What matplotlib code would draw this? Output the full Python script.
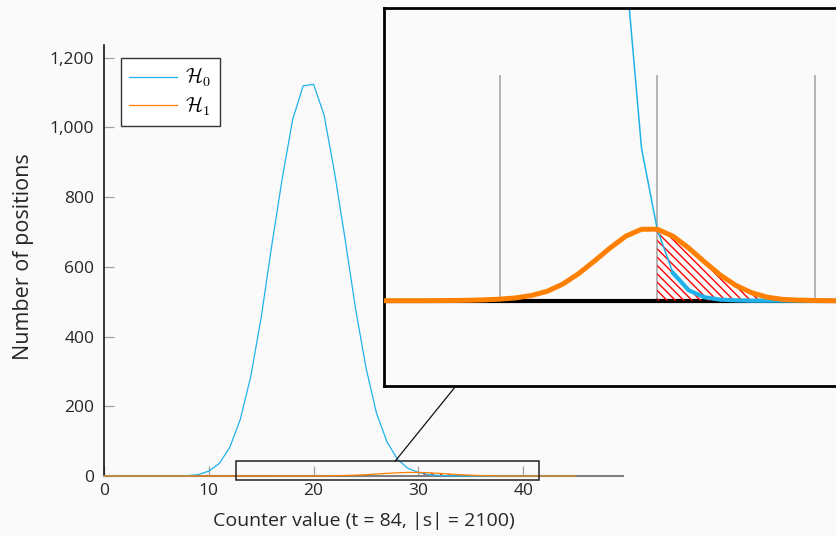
import matplotlib
matplotlib.use("Agg")
import matplotlib.pyplot as plt
from matplotlib.patches import Rectangle, ConnectionPatch
from matplotlib.ticker import StrMethodFormatter

# counter values 0..45
counter = list(range(46))

# H0: number of positions per counter value
h0 = [0, 0, 0, 0, 0, 0, 0, 0, 1, 4,
      14, 36, 82, 162, 285, 455, 660, 852, 1022, 1119,
      1123, 1035, 870, 680, 480, 310, 180, 98, 48, 22,
      10.3, 4, 1.5, 0.5, 0.15, 0.05, 0, 0, 0, 0,
      0, 0, 0, 0, 0, 0]

# H1: number of positions per counter value
h1 = [0, 0, 0, 0, 0, 0, 0, 0, 0, 0,
      0, 0, 0, 0, 0, 0, 0.01, 0.03, 0.06, 0.12,
      0.22, 0.4, 0.75, 1.35, 2.4, 3.9, 5.7, 7.6, 9.3, 10.3,
      10.3, 9.3, 7.6, 5.6, 3.7, 2.2, 1.15, 0.5, 0.18, 0.08,
      0.03, 0, 0, 0, 0, 0]

threshold = 30
labels = [r"$\mathcal{H}_\mathsf{0}$", r"$\mathcal{H}_\mathsf{1}$"]
x_ticks = [0, 10, 20, 30, 40]
y_ticks = [0, 200, 400, 600, 800, 1000, 1200]

blue = "#1fb2ea"
orange = "#ff8000"
bg = "#fafafa"
txt = "#262626"

plt.rcParams["font.family"] = ["Open Sans", "DejaVu Sans"]
plt.rcParams["mathtext.fontset"] = "cm"
plt.rcParams["hatch.linewidth"] = 1.0

fig = plt.figure(figsize=(8.36, 5.36), dpi=100, facecolor=bg)

# main axes
ax = fig.add_axes([104 / 836, 60 / 536, 519 / 836, 431 / 536])
ax.set_facecolor(bg)
ax.set_xlim(0, 49.52)
ax.set_ylim(0, 1236)

tail_x = [c for c in counter if c >= threshold]
tail_h1 = [h1[c] for c in tail_x]
hatch = "\\\\\\\\"

ax.fill_between(tail_x, 0, tail_h1, facecolor="none", edgecolor="red",
                hatch=hatch, linewidth=0, zorder=2)
ax.plot(counter, h0, color=blue, lw=0.9, label=labels[0], zorder=3, clip_on=False)
ax.plot(counter, h1, color=orange, lw=0.9, label=labels[1], zorder=3, clip_on=False)

ax.spines["top"].set_visible(False)
ax.spines["right"].set_visible(False)
ax.spines["left"].set_color("black")
ax.spines["left"].set_linewidth(1.1)
ax.spines["bottom"].set_color("#808080")
ax.spines["bottom"].set_linewidth(1.5)

ax.set_xticks(x_ticks)
ax.set_yticks(y_ticks)
ax.yaxis.set_major_formatter(StrMethodFormatter("{x:,.0f}"))
ax.tick_params(direction="in", length=7.2, width=0.9, color="#a0a0a0",
               labelsize=12.5, labelcolor=txt)
ax.tick_params(axis="x", pad=5)
ax.tick_params(axis="y", pad=7)

ax.set_xlabel("Counter value (t = 84, |s| = 2100)", fontsize=14, color=txt)
ax.set_ylabel("Number of positions", fontsize=15.5, color=txt)
ax.xaxis.set_label_coords(0.5, -0.083)
ax.yaxis.set_label_coords(-0.134, 0.51)

leg = ax.legend(loc="upper left", bbox_to_anchor=(0.0328, 0.9698), borderaxespad=0,
                fontsize=14.5, fancybox=False, framealpha=1, edgecolor="#333333",
                handlelength=2.4, handletextpad=0.4, labelspacing=0.25,
                borderpad=0.4)
leg.get_frame().set_linewidth(1.0)
leg.get_frame().set_facecolor("white")

# zoomed region
zx0, zx1 = 12.63, 41.48
zy0, zy1 = -12.3, 42.2
ax.add_patch(Rectangle((zx0, zy0), zx1 - zx0, zy1 - zy0, fill=False,
                       ec="#222222", lw=1.1, clip_on=False, zorder=4))

# inset
ax_in = fig.add_axes([384 / 836, 150 / 536, 453.8 / 836, 378 / 536])
ax_in.set_facecolor(bg)
ax_in.set_xlim(zx0, zx1)
ax_in.set_ylim(zy0, zy1)
ax_in.set_xticks([])
ax_in.set_yticks([])
for s in ax_in.spines.values():
    s.set_color("black")
    s.set_linewidth(2)

ax_in.vlines(x_ticks[2:], 0, 32.6, color="#a8a8a8", lw=1.2, zorder=1)
ax_in.axhline(0, color="black", lw=3, zorder=1.5)
ax_in.fill_between(tail_x, 0, tail_h1, facecolor="none", edgecolor="red",
                   hatch=hatch, linewidth=0, zorder=2)
ax_in.plot(counter, h0, color=blue, lw=1.1, zorder=2.5)
flat_x = [c for c in counter if c >= threshold + 1]
ax_in.plot(flat_x, [h0[c] for c in flat_x], color=blue, lw=3, zorder=2.6)
ax_in.plot(counter, h1, color=orange, lw=3.6, zorder=3)

con = ConnectionPatch(xyA=(27.77, zy1), coordsA=ax.transData,
                      xyB=(17.2, zy0), coordsB=ax_in.transData,
                      color="#111111", lw=0.9)
fig.add_artist(con)

plt.savefig("out.png", dpi=100, facecolor=bg)
